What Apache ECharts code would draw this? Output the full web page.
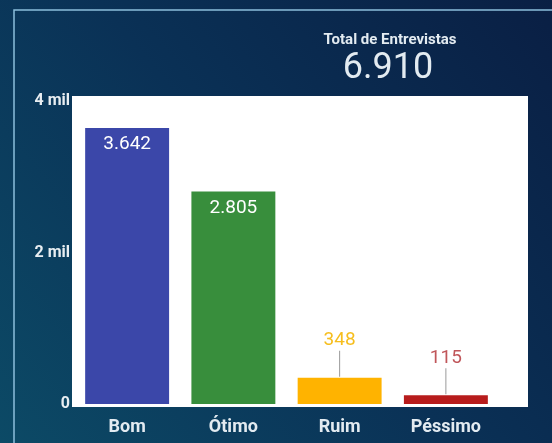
<!DOCTYPE html>
<html><head><meta charset="utf-8">
<script src="https://cdn.jsdelivr.net/npm/echarts@6/dist/echarts.min.js"></script>
<style>html,body{margin:0;padding:0;background:#0b2f52;}#c{width:552px;height:443px;}</style>
</head><body><div id="c"></div>
<script>
const categories = ['Bom', 'Ótimo', 'Ruim', 'Péssimo'];
const values = [3642, 2805, 348, 115];
const barColors = ['#3b47a9', '#388e3c', '#ffb300', '#b71c1c'];
const labelColors = ['#ffffff', '#ffffff', '#f6be1e', '#c0565a'];
const insideLabel = [true, true, false, false];
const totalTitle = 'Total de Entrevistas';
const totalValue = '6.910';
const yTicks = [0, 2000, 4000];

const fmt = v => v.toString().replace(/\B(?=(\d{3})+(?!\d))/g, '.');

const chart = echarts.init(document.getElementById('c'), null, {renderer: 'canvas'});
const data = values.map((v, i) => ({
  value: v,
  itemStyle: {color: barColors[i]},
  label: insideLabel[i] ? {
    show: true, position: 'insideTop', distance: 7, color: labelColors[i],
    fontSize: 19, fontFamily: 'Roboto', formatter: p => fmt(p.value)
  } : {
    show: true, position: 'top', distance: 1,
    formatter: p => '{v|' + fmt(p.value) + '}\n{l|}',
    rich: {
      v: {color: labelColors[i], fontSize: 19, fontFamily: 'Roboto', lineHeight: 20, align: 'center'},
      l: {width: 1, height: 26, backgroundColor: '#9a9a9a', align: 'center'}
    }
  }
}));

chart.setOption({
  backgroundColor: {
    type: 'linear', x: 0, y: 1, x2: 1, y2: 0,
    colorStops: [{offset: 0, color: '#0c4a66'}, {offset: 0.5, color: '#0a3156'}, {offset: 1, color: '#0a1f44'}]
  },
  graphic: [
    {type: 'rect', shape: {x: 14, y: 10, width: 620, height: 520}, style: {fill: 'none', stroke: '#8cbfdc', lineWidth: 1.5}, z: 0},
    {type: 'rect', shape: {x: 72, y: 96, width: 456, height: 311}, style: {fill: '#ffffff'}, z: 0},
    {type: 'text', style: {text: totalTitle, x: 390, y: 40, textAlign: 'center', textVerticalAlign: 'middle', fill: '#e3ebf1', font: 'bold 15px Roboto'}, z: 5},
    {type: 'text', style: {text: totalValue, x: 388, y: 69, textAlign: 'center', textVerticalAlign: 'middle', fill: '#e3ebf1', font: '36px Roboto'}, z: 5}
  ],
  grid: {left: 74, right: 53, top: 101, bottom: 39, containLabel: false},
  xAxis: {
    type: 'category', data: categories,
    axisLine: {show: false}, axisTick: {show: false},
    axisLabel: {color: '#e3ebf1', fontSize: 18, fontWeight: 'bold', fontFamily: 'Roboto', margin: 14}
  },
  yAxis: {
    type: 'value', min: 0, max: 4000, interval: 2000,
    splitLine: {show: false}, axisLine: {show: false}, axisTick: {show: false},
    axisLabel: {color: '#e8eef2', fontSize: 16, fontWeight: 'bold', fontFamily: 'Roboto', margin: 4,
      formatter: v => yTicks.includes(v) ? (v === 0 ? '0' : (v / 1000) + ' mil') : ''}
  },
  series: [{
    type: 'bar', data: data, barCategoryGap: '21%', z: 3, animation: false
  }],
  animation: false
});
</script></body></html>
